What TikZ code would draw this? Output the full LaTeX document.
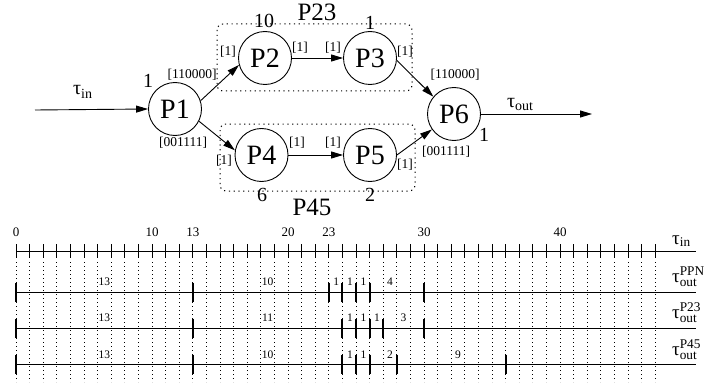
\documentclass[tikz,border=0pt]{standalone}
\usepackage{amsmath}
\usepackage{fontspec}
\setmainfont{Liberation Serif}
\usetikzlibrary{arrows.meta}

\begin{document}
\begin{tikzpicture}[x=1pt, y=-1pt,
    proc/.style={circle, draw, line width=0.9pt, minimum size=53pt, inner sep=0pt, font=\fontsize{28}{28}\selectfont},
    flow/.style={-{Triangle[length=12pt, width=7pt]}, line width=0.9pt},
    rate/.style={inner sep=0pt, font=\fontsize{13.5}{14}\selectfont},
    cnt/.style={inner sep=0pt, font=\fontsize{20}{20}\selectfont},
    group/.style={draw, line width=1pt, dash pattern=on 1.2pt off 3.6pt, rounded corners=6pt},
    evt/.style={inner sep=0pt, font=\fontsize{11.5}{12}\selectfont},
    trace/.style={anchor=base west, inner sep=0pt, font=\fontsize{19}{19}\selectfont}]
    \useasboundingbox (0,0) rectangle (706,385);

    % Groups
    \draw[group] (217,24) rectangle (412,91);
    \draw[group] (220,124) rectangle (415,191);
    \node[inner sep=0pt, font=\fontsize{25}{25}\selectfont] (g23) at (317,12) {P23};
    \node[inner sep=0pt, font=\fontsize{25}{25}\selectfont] (g45) at (312,207) {P45};

    % Processes
    \node[proc] (P1) at (175,109) {P1};
    \node[proc] (P2) at (265,58) {P2};
    \node[proc] (P3) at (370,58) {P3};
    \node[proc] (P4) at (261.5,155) {P4};
    \node[proc] (P5) at (370,155) {P5};
    \node[proc] (P6) at (454,114) {P6};

    % Repetition counts
    \node[cnt] (c1) at (148,81) {1};
    \node[cnt] (c2) at (264,21) {10};
    \node[cnt] (c3) at (370,23) {1};
    \node[cnt] (c4) at (262,195) {6};
    \node[cnt] (c5) at (370,195) {2};
    \node[cnt] (c6) at (484,135) {1};

    % Channels
    \coordinate (src) at (35,110);
    \coordinate (snk) at (592,114);
    \draw[flow] (src) -- (P1.west);
    \draw[flow] (P1.18) -- (P2.195);
    \draw[flow] (P1.-27) -- (P4.170);
    \draw[flow] (P2.east) -- (P3.west);
    \draw[flow] (P4.east) -- (P5.west);
    \draw[flow] (P3.-5) -- (P6.140);
    \draw[flow] (P5.0) -- (P6.215);
    \draw[flow] (P6.east) -- (snk);
    \node[anchor=base west, inner sep=0pt, font=\fontsize{20}{20}\selectfont] (tin) at (73,95) {$\text{τ}_{\text{in}}$};
    \node[anchor=base west, inner sep=0pt, font=\fontsize{20}{20}\selectfont] (tout) at (507,107) {$\text{τ}_{\text{out}}$};

    % Rates
    \node[rate] (r1a) at (192,75) {[110000]};
    \node[rate] (r1b) at (183,143) {[001111]};
    \node[rate] (r2a) at (228,52) {[1]};
    \node[rate] (r2b) at (300,48) {[1]};
    \node[rate] (r3a) at (333,48) {[1]};
    \node[rate] (r3b) at (405,52) {[1]};
    \node[rate] (r4a) at (224,161) {[1]};
    \node[rate] (r4b) at (297,143) {[1]};
    \node[rate] (r5a) at (333,143) {[1]};
    \node[rate] (r5b) at (405,165) {[1]};
    \node[rate] (r6a) at (455,75) {[110000]};
    \node[rate] (r6b) at (446,152) {[001111]};

    % Time axis
    \foreach \t in {0,...,47}
        \draw[line width=1pt, dash pattern=on 1.2pt off 2.8pt] ({16+13.6*\t},262) -- ({16+13.6*\t},382);
    \draw[line width=1pt] (16,251) -- (696,251);
    \foreach \t in {0,...,47}
        \draw[line width=0.9pt] ({16+13.6*\t},244) -- ({16+13.6*\t},258);
    \foreach \t in {0,10,13,20,23,30,40}
        \node[inner sep=0pt, font=\fontsize{13}{13}\selectfont] (ax\t) at ({16+13.6*\t},232) {\t};

    % Output traces
    \foreach \y/\evts in {292/{0,13,23,24,25,26,30}, 328/{0,13,24,25,26,27,30}, 364/{0,13,24,25,26,28,36}} {
        \draw[line width=1pt] (16,\y) -- (696,\y);
        \foreach \t in \evts
            \draw[line width=2pt] ({16+13.6*\t},\y-9.5) -- ({16+13.6*\t},\y+9.5);
    }
    \foreach \t/\d [count=\i] in {6.5/13, 18.5/10, 23.55/1, 24.55/1, 25.55/1, 27.5/4}
        \node[evt] (ea\i) at ({16+13.6*\t},281.5) {\d};
    \foreach \t/\d [count=\i] in {6.5/13, 18.5/11, 24.55/1, 25.55/1, 26.55/1, 28.5/3}
        \node[evt] (eb\i) at ({16+13.6*\t},318) {\d};
    \foreach \t/\d [count=\i] in {6.5/13, 18.5/10, 24.55/1, 25.55/1, 27.5/2, 32.5/9}
        \node[evt] (ec\i) at ({16+13.6*\t},354.5) {\d};

    % Trace names
    \node[trace] (nin) at (672,244) {$\text{τ}_{\text{in}}$};
    \node[trace] (nppn) at (672,282) {$\text{τ}_{\text{out}}^{\text{PPN}}$};
    \node[trace] (n23) at (672,318) {$\text{τ}_{\text{out}}^{\text{P23}}$};
    \node[trace] (n45) at (672,355) {$\text{τ}_{\text{out}}^{\text{P45}}$};
\end{tikzpicture}
\end{document}
